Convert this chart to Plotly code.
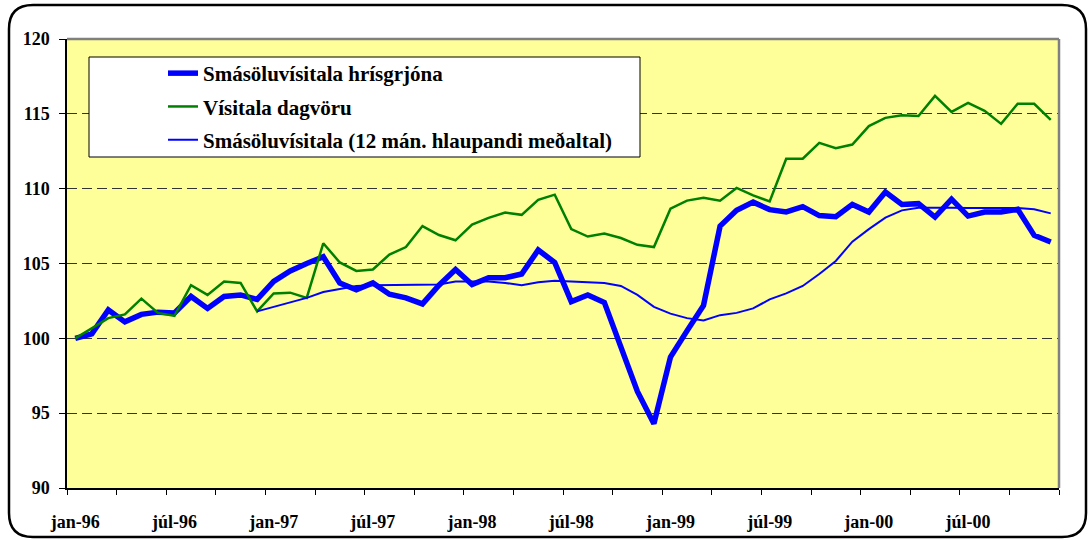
import plotly.graph_objects as go

# ---------------- data ----------------
month_names = ["jan", "feb", "mar", "apr", "maí", "jún", "júl", "ágú", "sep", "okt", "nóv", "des"]
years = ["96", "97", "98", "99", "00"]
months = [f"{m}-{y}" for y in years for m in month_names]

tick_labels = ["jan-96", "júl-96", "jan-97", "júl-97", "jan-98", "júl-98",
               "jan-99", "júl-99", "jan-00", "júl-00"]

rice = [100.0, 100.3, 101.9, 101.1, 101.6, 101.75, 101.7, 102.8, 102.0, 102.8,
        102.9, 102.6, 103.8, 104.5, 105.0, 105.45, 103.7, 103.25, 103.7, 102.95,
        102.7, 102.3, 103.55, 104.6, 103.6, 104.05, 104.05, 104.3, 105.9, 105.07,
        102.45, 102.9, 102.4, 99.5, 96.45, 94.3, 98.75, 100.5, 102.2, 107.5,
        108.55, 109.1, 108.6, 108.45, 108.8, 108.2, 108.13, 108.95, 108.44, 109.78,
        108.95, 109.0, 108.1, 109.3, 108.17, 108.44, 108.44, 108.62, 106.88, 106.44]

food = [100.0, 100.7, 101.35, 101.6, 102.65, 101.7, 101.5, 103.55, 102.9, 103.8,
        103.7, 101.8, 103.0, 103.05, 102.7, 106.35, 105.07, 104.5, 104.6, 105.6,
        106.1, 107.5, 106.9, 106.55, 107.6, 108.05, 108.4, 108.25, 109.25, 109.6,
        107.3, 106.8, 107.0, 106.7, 106.25, 106.1, 108.66, 109.2, 109.4, 109.2,
        110.05, 109.55, 109.15, 112.0, 112.0, 113.06, 112.7, 112.95, 114.18, 114.73,
        114.9, 114.85, 116.2, 115.13, 115.73, 115.2, 114.33, 115.67, 115.67, 114.6]

avg12 = [None] * 11 + [
        101.8, 102.1, 102.4, 102.7, 103.1, 103.3, 103.5, 103.55, 103.55,
        103.6, 103.6, 103.6, 103.8, 103.8, 103.8, 103.7, 103.55, 103.75, 103.85,
        103.8, 103.75, 103.7, 103.5, 102.9, 102.1, 101.65, 101.35, 101.2, 101.55,
        101.7, 102.0, 102.6, 103.0, 103.5, 104.3, 105.17, 106.46, 107.3, 108.06,
        108.55, 108.73, 108.75, 108.73, 108.7, 108.69, 108.69, 108.7, 108.62, 108.35]

names = ["Smásöluvísitala hrísgrjóna", "Vísitala dagvöru",
         "Smásöluvísitala (12 mán. hlaupandi meðaltal)"]

# ---------------- layout helpers ----------------
W, H = 1090, 540
L, R, T, B = 67, 1059, 39, 488
PW, PH = R - L, B - T


def px(p):
    return (p - L) / PW


def py(p):
    return (B - p) / PH


FONT = "Liberation Serif"
x = list(range(len(months)))
label_pos = [months.index(t) for t in tick_labels]

fig = go.Figure()
fig.add_trace(go.Scatter(x=x, y=rice, mode="lines", name=names[0],
                         line=dict(color="#0000FF", width=5.5), legendgroup="a"))
fig.add_trace(go.Scatter(x=x, y=food, mode="lines", name=names[1],
                         line=dict(color="#008000", width=2.5), legendgroup="b"))
fig.add_trace(go.Scatter(x=x, y=avg12, mode="lines", name=names[2],
                         line=dict(color="#0000FF", width=2), legendgroup="c"))
# helper trace for label axis
fig.add_trace(go.Scatter(x=[0], y=[None], xaxis="x2", showlegend=False,
                         hoverinfo="skip", mode="lines"))

# rounded outer frame
fl, ft, fr, fb, r = 9, 5, 1086, 537, 24


def P(a, b):
    return f"{px(a):.5f},{py(b):.5f}"


frame_path = (f"M{P(fl, ft + r)} Q{P(fl, ft)} {P(fl + r, ft)} L{P(fr - r, ft)} "
              f"Q{P(fr, ft)} {P(fr, ft + r)} L{P(fr, fb - r)} Q{P(fr, fb)} {P(fr - r, fb)} "
              f"L{P(fl + r, fb)} Q{P(fl, fb)} {P(fl, fb - r)} Z")

shapes = [
    dict(type="path", xref="paper", yref="paper", path=frame_path,
         line=dict(color="black", width=2.5), layer="below"),
    dict(type="line", xref="paper", yref="paper", x0=0, x1=1, y0=1, y1=1,
         line=dict(color="#808080", width=2.5), layer="above"),
    dict(type="line", xref="paper", yref="paper", x0=1, x1=1, y0=0, y1=1,
         line=dict(color="#808080", width=2.5), layer="above"),
    dict(type="rect", xref="paper", yref="paper", x0=px(89), x1=px(640),
         y0=py(157), y1=py(57), fillcolor="white",
         line=dict(color="black", width=1), layer="above"),
]

fig.update_layout(
    width=W, height=H,
    margin=dict(l=L, r=W - R, t=T, b=H - B, pad=0, autoexpand=False),
    paper_bgcolor="white",
    plot_bgcolor="#FFFF99",
    font=dict(family=FONT, color="black"),
    shapes=shapes,
    showlegend=True,
    legend=dict(x=px(163), y=py(53), xanchor="left", yanchor="top",
                bgcolor="rgba(0,0,0,0)", borderwidth=0,
                traceorder="grouped", tracegroupgap=3,
                font=dict(family=FONT, size=21, color="black", weight="bold")),
    xaxis=dict(range=[-0.5, len(months) - 0.5],
               tickvals=[i - 0.5 for i in range(0, len(months) + 1, 3)],
               showticklabels=False, ticks="outside", ticklen=5,
               tickcolor="black", tickwidth=1, automargin=False,
               showline=True, linecolor="black", linewidth=1.5,
               showgrid=False, zeroline=False, fixedrange=True),
    xaxis2=dict(overlaying="x", anchor="y", side="bottom",
                range=[-0.5, len(months) - 0.5],
                tickvals=label_pos, ticktext=tick_labels, automargin=False,
                ticks="outside", ticklen=17, tickcolor="rgba(0,0,0,0)",
                tickfont=dict(family=FONT, size=18, color="black", weight="bold"),
                showline=False, showgrid=False, zeroline=False),
    yaxis=dict(range=[90, 120], tickvals=[90, 95, 100, 105, 110, 115, 120],
               ticks="outside", ticklen=6, tickcolor="black", automargin=False,
               showline=True, linecolor="black", linewidth=1.5,
               showgrid=True, gridcolor="#333333", gridwidth=1,
               griddash="10px,5px", zeroline=False,
               ticklabelstandoff=6,
               tickfont=dict(family=FONT, size=18, color="black", weight="bold")),
)

fig.write_html("out.html", config={"displayModeBar": False},
               post_script="document.body.style.margin='0px';")
